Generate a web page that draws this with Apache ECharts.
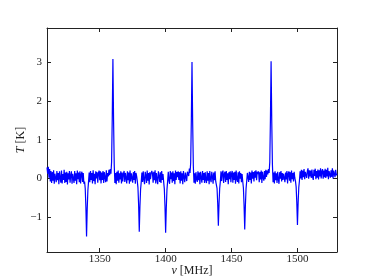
<!DOCTYPE html>
<html>
<head>
<meta charset="utf-8">
<script src="https://cdn.jsdelivr.net/npm/echarts@6/dist/echarts.min.js"></script>
<style>
  html, body { margin: 0; padding: 0; background: #fff; }
  #chart { width: 374px; height: 280px; }
</style>
</head>
<body>
<div id="chart"></div>
<script>
// spectrum sampled every 0.5 MHz, stored in 20 MHz blocks (T in K)
const freqStep = 0.5;
const block1310 = [0.28, 0.12, 0.30, 0.02, 0.24, -0.08, 0.19, -0.12, 0.16, -0.06, 0.21, -0.14, 0.12, 0.17, -0.10, 0.19, -0.05, 0.14, -0.15, 0.18, 0.02, -0.11, 0.20, -0.13, 0.11, -0.04, 0.22, -0.12, 0.15, -0.09, 0.17, -0.16, 0.13, -0.03, 0.19, -0.11, 0.08, 0.18, -0.14, 0.12];
const block1330 = [0.16, -0.12, 0.19, -0.06, 0.13, -0.15, 0.20, -0.02, 0.15, -0.10, 0.18, -0.13, 0.11, 0.17, -0.09, 0.14, -0.14, -0.08, -0.26, -0.74, -1.50, -0.80, -0.32, -0.09, 0.15, -0.10, 0.19, -0.04, 0.14, -0.13, 0.21, -0.07, 0.12, -0.15, 0.18, 0.00, 0.16, -0.11, 0.13, 0.20];
const block1350 = [-0.05, 0.18, -0.13, 0.15, -0.04, 0.19, -0.12, 0.16, 0.02, -0.10, 0.21, -0.08, 0.14, 0.05, 0.22, 0.08, 0.24, 0.12, 0.42, 1.55, 3.08, 1.50, 0.35, -0.12, 0.14, -0.15, 0.17, -0.06, 0.20, -0.11, 0.13, -0.03, 0.18, -0.13, 0.15, -0.08, 0.12, 0.19, -0.09, 0.14];
const block1370 = [0.10, -0.13, 0.18, -0.05, 0.15, -0.14, 0.20, -0.08, 0.13, 0.17, -0.11, 0.16, -0.04, 0.19, -0.14, 0.14, 0.06, -0.07, -0.24, -0.68, -1.38, -0.72, -0.28, -0.09, 0.15, -0.09, 0.18, -0.03, -0.15, 0.17, 0.08, -0.12, 0.20, -0.06, 0.14, -0.16, 0.16, -0.02, 0.12, 0.19];
const block1390 = [0.13, -0.11, 0.17, -0.05, 0.21, -0.13, 0.14, -0.02, -0.15, 0.18, 0.06, -0.09, 0.16, -0.12, 0.19, -0.04, 0.11, -0.09, -0.27, -0.72, -1.40, -0.76, -0.29, -0.08, 0.17, -0.05, -0.14, 0.19, -0.02, 0.15, -0.11, 0.18, -0.07, 0.13, -0.15, 0.20, -0.04, 0.16, 0.03, 0.18];
const block1410 = [-0.04, 0.16, -0.13, 0.18, -0.06, 0.13, -0.15, 0.19, 0.04, -0.10, 0.15, 0.20, -0.07, 0.17, 0.22, 0.06, 0.25, 0.14, 0.40, 1.50, 3.00, 1.45, 0.33, -0.11, 0.13, -0.14, 0.16, -0.03, -0.09, 0.18, -0.05, 0.15, -0.15, 0.17, 0.02, -0.11, 0.19, -0.04, 0.14, -0.12];
const block1430 = [0.16, -0.03, -0.12, 0.18, -0.06, 0.14, -0.15, 0.19, -0.02, -0.10, 0.17, 0.05, -0.14, 0.15, -0.05, 0.18, -0.08, -0.11, -0.26, -0.64, -1.22, -0.66, -0.26, -0.08, 0.18, -0.07, 0.14, 0.20, -0.12, 0.11, 0.17, -0.09, 0.19, -0.04, 0.13, -0.15, 0.16, -0.02, 0.18, -0.10];
const block1450 = [0.12, 0.19, -0.11, 0.15, -0.04, 0.17, -0.14, 0.20, -0.02, -0.09, 0.16, -0.13, 0.18, -0.01, 0.14, -0.10, 0.11, -0.08, -0.25, -0.70, -1.32, -0.71, -0.27, -0.07, 0.14, 0.19, -0.09, 0.17, -0.04, 0.15, -0.13, 0.20, -0.01, 0.16, -0.08, 0.18, 0.02, 0.21, -0.05, 0.17];
const block1470 = [0.11, 0.18, -0.10, 0.16, -0.03, 0.20, -0.12, 0.17, 0.02, -0.06, 0.19, -0.02, 0.22, 0.04, 0.20, 0.10, 0.24, 0.14, 0.42, 1.52, 3.02, 1.48, 0.36, -0.10, 0.15, -0.13, 0.18, -0.05, 0.13, -0.12, 0.17, -0.02, -0.14, 0.16, -0.01, 0.19, -0.08, 0.14, -0.04, 0.12];
const block1490 = [0.17, -0.10, 0.15, -0.03, 0.19, -0.13, 0.12, 0.18, -0.06, 0.16, -0.11, 0.20, -0.02, 0.14, -0.08, 0.17, 0.01, -0.07, -0.22, -0.62, -1.20, -0.64, -0.24, -0.06, 0.18, 0.00, 0.22, -0.04, 0.20, 0.03, 0.24, -0.02, 0.17, 0.21, 0.01, 0.19, 0.26, -0.01, 0.21, 0.05];
const block1510 = [0.20, 0.01, 0.23, 0.03, -0.04, 0.22, 0.06, 0.25, -0.02, 0.19, 0.02, 0.23, -0.03, 0.21, 0.05, 0.26, 0.00, 0.18, 0.24, -0.01, 0.20, 0.03, 0.25, 0.01, 0.22, 0.05, 0.27, -0.02, 0.19, 0.23, 0.02, 0.21, 0.04, 0.26, 0.00, 0.20, 0.24, 0.03, 0.22, 0.08, 0.12];

const xTicks = [1350, 1400, 1450, 1500];
const yTicks = [-1, 0, 1, 2, 3];

const blocks = [
  [1310, block1310], [1330, block1330], [1350, block1350], [1370, block1370],
  [1390, block1390], [1410, block1410], [1430, block1430], [1450, block1450],
  [1470, block1470], [1490, block1490], [1510, block1510]
];
const points = [];
blocks.forEach(([start, vals]) => {
  vals.forEach((v, i) => points.push([start + i * freqStep, v]));
});

const font = 'Liberation Serif';
const ink = '#222';
const axisLine = { show: true, onZero: false, lineStyle: { color: ink, width: 1 } };
const tick = (vals) => ({ show: true, inside: true, length: 4, customValues: vals, lineStyle: { color: ink } });
const nameStyle = {
  fontFamily: font, fontSize: 12, color: ink,
  rich: { i: { fontStyle: 'italic', fontFamily: font, fontSize: 12, color: ink } }
};

const chart = echarts.init(document.getElementById('chart'));
chart.setOption({
  animation: false,
  grid: { left: 47, right: 37, top: 28, bottom: 28, outerBoundsMode: 'none', containLabel: false },
  xAxis: [
    {
      type: 'value', min: 1310, max: 1530,
      axisLine: axisLine,
      axisTick: tick(xTicks),
      axisLabel: { customValues: xTicks, margin: 2, fontFamily: font, fontSize: 11, color: ink, formatter: (v) => String(v) },
      splitLine: { show: false },
      name: '{i|ν} [MHz]',
      nameLocation: 'middle',
      nameGap: 13,
      nameMoveOverlap: false,
      nameTextStyle: nameStyle
    },
    {
      type: 'value', position: 'top', min: 1310, max: 1530,
      axisLine: axisLine,
      axisTick: tick(xTicks),
      axisLabel: { show: false },
      splitLine: { show: false }
    }
  ],
  yAxis: [
    {
      type: 'value', min: -1.9, max: 3.88,
      axisLine: axisLine,
      axisTick: tick(yTicks),
      axisLabel: {
        customValues: yTicks, margin: 5, fontFamily: font, fontSize: 11, color: ink,
        formatter: (v) => (v < 0 ? '\u2212' + Math.abs(v) : String(v))
      },
      splitLine: { show: false },
      name: '{i|T} [K]',
      nameLocation: 'middle',
      nameGap: 20,
      nameMoveOverlap: false,
      nameTextStyle: nameStyle
    },
    {
      type: 'value', position: 'right', min: -1.9, max: 3.88,
      axisLine: axisLine,
      axisTick: tick(yTicks),
      axisLabel: { show: false },
      splitLine: { show: false }
    }
  ],
  series: [
    {
      type: 'line',
      data: points,
      showSymbol: false,
      sampling: false,
      lineStyle: { color: '#0000ff', width: 1.2 },
      itemStyle: { color: '#0000ff' }
    }
  ]
});
</script>
</body>
</html>
